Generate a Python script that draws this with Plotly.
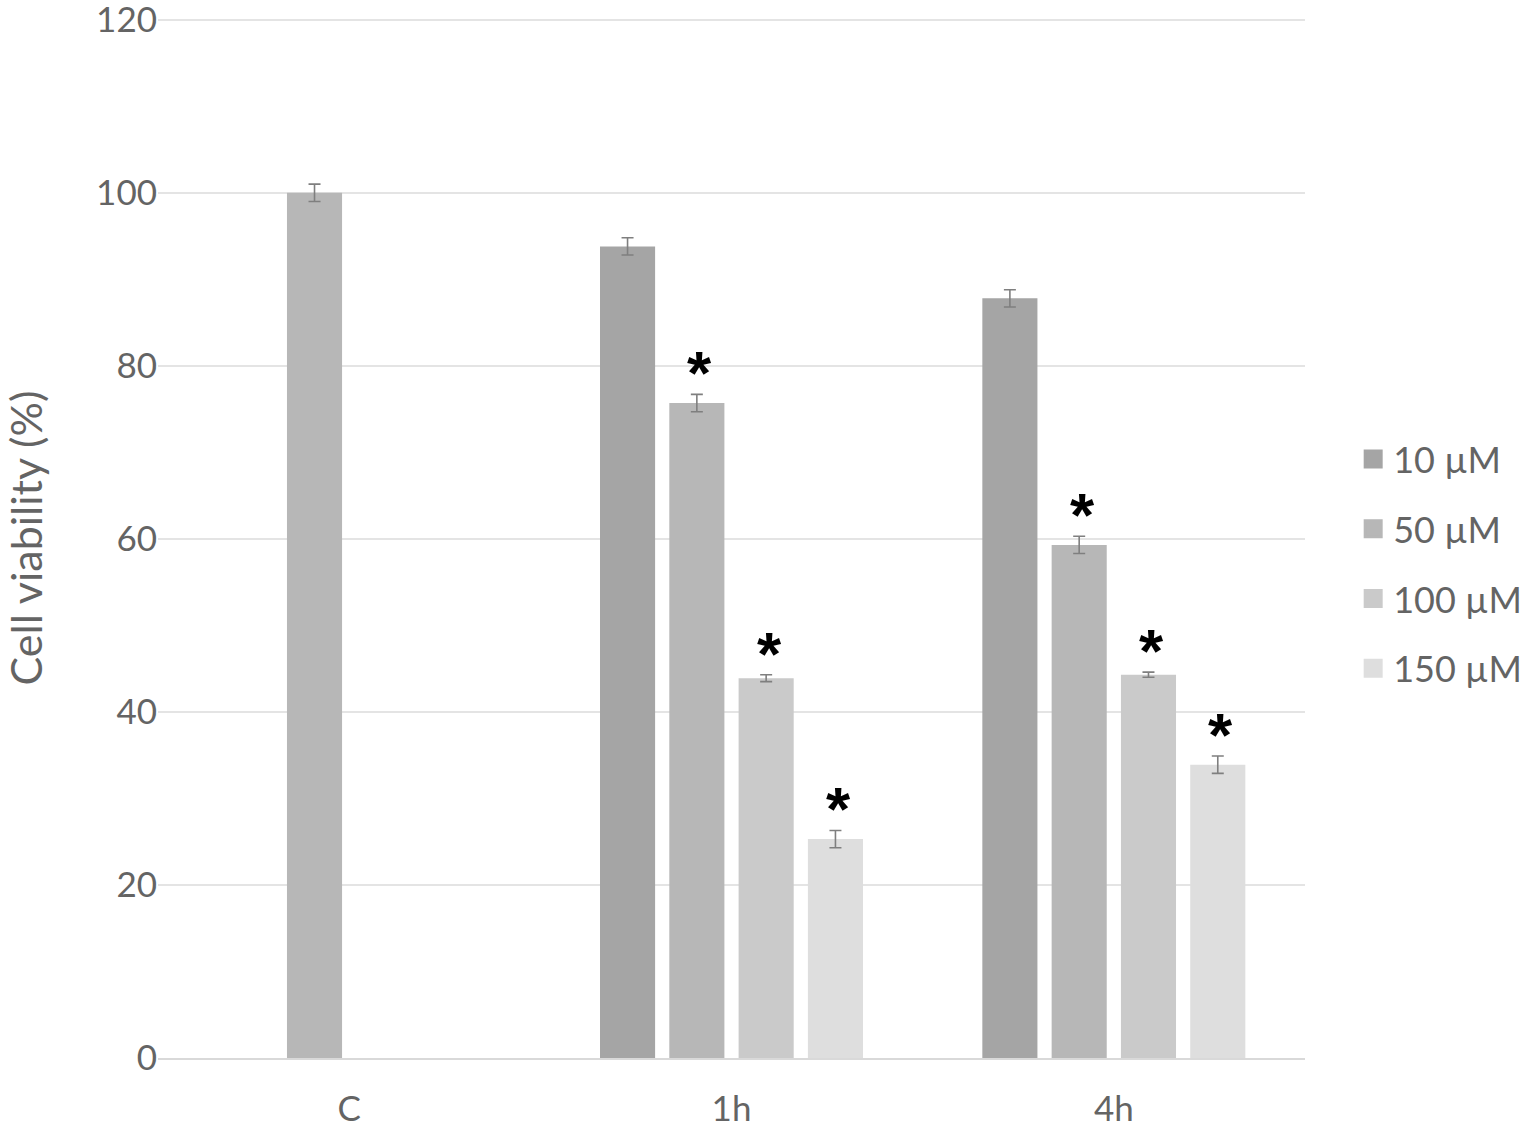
import plotly.graph_objects as go

categories = ["C", "1h", "4h"]
series_names = ["10 µM", "50 µM", "100 µM", "150 µM"]
values_10 = [None, 93.8, 87.8]
values_50 = [100.0, 75.7, 59.3]
values_100 = [None, 43.9, 44.3]
values_150 = [None, 25.3, 33.9]
err_10 = [0, 1.0, 1.0]
err_50 = [1.0, 1.0, 1.0]
err_100 = [0, 0.4, 0.3]
err_150 = [0, 1.0, 1.0]
significant_10 = [False, False, False]
significant_50 = [False, True, True]
significant_100 = [False, True, True]
significant_150 = [False, True, True]
y_ticks = [0, 20, 40, 60, 80, 100, 120]

colors = ["#a5a5a5", "#b7b7b7", "#cacaca", "#dedede"]
all_vals = [values_10, values_50, values_100, values_150]
all_errs = [err_10, err_50, err_100, err_150]
all_sig = [significant_10, significant_50, significant_100, significant_150]

FONT = "Lato"
TXT = "#646464"

fig = go.Figure()
for i, name in enumerate(series_names):
    fig.add_trace(go.Bar(
        x=categories, y=all_vals[i], name=name,
        marker=dict(color=colors[i], line=dict(width=0)),
        error_y=dict(type="data", array=all_errs[i], visible=True,
                     color="#7f7f7f", thickness=1.6, width=6),
        legendgroup=name, showlegend=False,
    ))

# legend entries (larger square swatches)
for i, name in enumerate(series_names):
    fig.add_trace(go.Scatter(
        x=[None], y=[None], mode="markers", name=name, legendgroup=name,
        marker=dict(symbol="square", size=16, color=colors[i],
                    line=dict(color=colors[i], width=3)),
        showlegend=True, hoverinfo="skip",
    ))

# asterisks above significant bars
slot_px = 69.2
offsets = [(-1.5 + i) * slot_px for i in range(4)]
for i in range(4):
    for j, cat in enumerate(categories):
        if all_sig[i][j] and all_vals[i][j] is not None:
            fig.add_annotation(
                x=cat, y=all_vals[i][j] + all_errs[i][j], xref="x", yref="y",
                text="<b>*</b>", showarrow=False, xshift=offsets[i] + 3,
                yanchor="bottom", yshift=-15,
                font=dict(family="Liberation Sans", size=62, color="#000000"),
            )

fig.update_layout(
    width=1524, height=1128,
    paper_bgcolor="white", plot_bgcolor="white",
    margin=dict(l=158, r=219, t=18, b=70, autoexpand=False),
    barmode="group", bargap=0.275, bargroupgap=0.205,
    font=dict(family=FONT, size=35, color=TXT),
    showlegend=True,
    legend=dict(x=1.042, y=0.475, xanchor="left", yanchor="middle",
                font=dict(family=FONT, size=36, color=TXT),
                tracegroupgap=20, itemwidth=30, bgcolor="rgba(0,0,0,0)"),
    xaxis=dict(showgrid=False, showline=True, linecolor="#d9d9d9", linewidth=2,
               ticks="", ticklabelstandoff=19, automargin=False,
               tickfont=dict(family=FONT, size=35, color=TXT)),
    yaxis=dict(range=[0, 120.2], tickvals=y_ticks, showgrid=True,
               gridcolor="#e4e4e4", gridwidth=2, zeroline=False, showline=False,
               ticks="", ticklen=0, ticklabeloverflow="allow", automargin=False,
               tickfont=dict(family=FONT, size=35, color=TXT),
               title=dict(text="Cell viability (%)", standoff=75,
                          font=dict(family=FONT, size=43, color=TXT))),
)

fig.write_html("out.html", config={"displayModeBar": False},
               post_script="document.body.style.margin='0';document.body.style.overflow='hidden';")
